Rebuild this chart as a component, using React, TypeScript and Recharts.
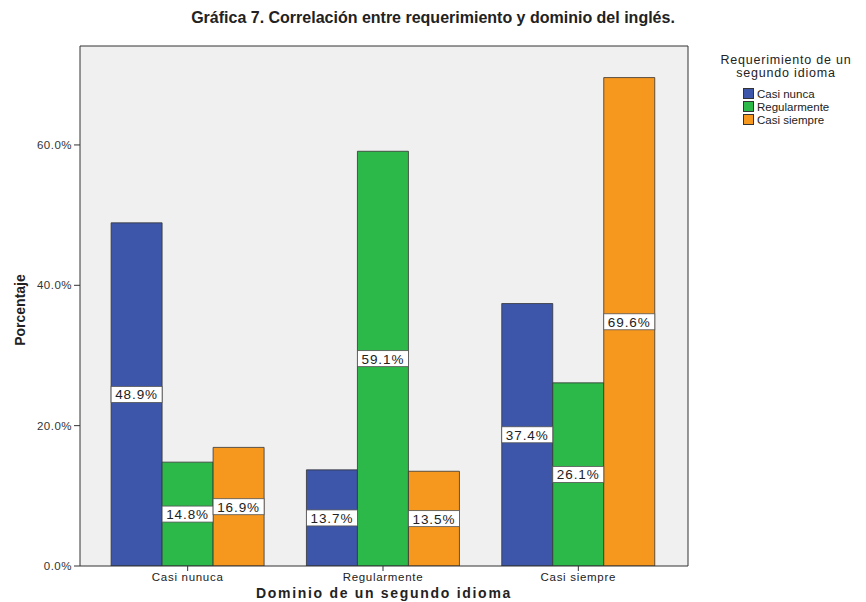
import React from 'react'
import { BarChart, Bar, XAxis, YAxis, CartesianGrid, LabelList } from 'recharts'

const categories = ['Casi nunuca', 'Regularmente', 'Casi siempre']
const casiNunca = [48.9, 13.7, 37.4]
const regularmente = [14.8, 59.1, 26.1]
const casiSiempre = [16.9, 13.5, 69.6]
const yTicks = [0, 20, 40, 60]

const series = [
  { key: 'casiNunca', name: 'Casi nunca', color: '#3d56a9' },
  { key: 'regularmente', name: 'Regularmente', color: '#2db84a' },
  { key: 'casiSiempre', name: 'Casi siempre', color: '#f7981e' },
]

const data = categories.map((c, i) => ({
  dominio: c,
  casiNunca: casiNunca[i],
  regularmente: regularmente[i],
  casiSiempre: casiSiempre[i],
}))

const font = 'Arial, "Liberation Sans", sans-serif'

function CenterLabel(props: any) {
  const { x, y, width, height, value } = props
  const cx = x + width / 2
  const cy = y + height / 2
  const text = `${Number(value).toFixed(1)}%`
  return (
    <g>
      <rect x={x} y={cy - 8} width={width} height={16} fill="#fff" stroke="#555" strokeWidth={0.8} />
      <text x={cx} y={cy + 5} textAnchor="middle" fontSize={13.5} letterSpacing={0.9} fontFamily={font} fill="#222">
        {text}
      </text>
    </g>
  )
}

export default function App() {
  return (
    <div style={{ position: 'absolute', left: 0, top: 0, width: 866, height: 602, background: '#fff', fontFamily: font }}>
      <div style={{ position: 'absolute', top: 9, left: 0, width: 866, textAlign: 'center', fontWeight: 'bold', fontSize: 16, color: '#222' }}>
        Gráfica 7. Correlación entre requerimiento y dominio del inglés.
      </div>
      <BarChart
        width={866}
        height={602}
        data={data}
        margin={{ top: 45, right: 177, bottom: 0, left: 0 }}
        barCategoryGap="10.8%"
        barGap={0}
      >
        <CartesianGrid fill="#f0f0f0" horizontal={false} vertical={false} />
        <XAxis
          dataKey="dominio"
          tick={{ fontSize: 11.5, fill: '#222', fontFamily: font, letterSpacing: 0.7 }}
          tickLine={{ stroke: '#333' }}
          tickSize={5}
          axisLine={{ stroke: '#333' }}
          height={36}
          interval={0}
          padding={{ left: 10, right: 12 }}
        />
        <XAxis xAxisId="top" orientation="top" dataKey="dominio" tick={false} tickLine={false} axisLine={{ stroke: '#333' }} height={1} />
        <YAxis
          domain={[0, 74.1]}
          ticks={yTicks}
          tickFormatter={(v: number) => `${v.toFixed(1)}%`}
          tick={{ fontSize: 11.5, fill: '#333', fontFamily: font, letterSpacing: 0.5 }}
          tickLine={{ stroke: '#333' }}
          tickSize={6}
          axisLine={{ stroke: '#333' }}
          width={80}
          allowDataOverflow
        />
        <YAxis yAxisId="right" orientation="right" domain={[0, 74.1]} tick={false} tickLine={false} axisLine={{ stroke: '#333' }} width={1} />
        {series.map((s) => (
          <Bar key={s.key} dataKey={s.key} name={s.name} fill={s.color} stroke="#333" strokeWidth={0.8} isAnimationActive={false}>
            <LabelList dataKey={s.key} content={CenterLabel} />
          </Bar>
        ))}
      </BarChart>
      <div
        style={{
          position: 'absolute',
          left: 2,
          top: 310,
          transform: 'translate(0, -50%) rotate(-90deg)',
          transformOrigin: 'center',
          width: 36,
          textAlign: 'center',
          fontWeight: 'bold',
          fontSize: 14,
          color: '#222',
          whiteSpace: 'nowrap',
          display: 'flex',
          justifyContent: 'center',
        }}
      >
        Porcentaje
      </div>
      <div style={{ position: 'absolute', left: 80, width: 608, top: 585, textAlign: 'center', fontWeight: 'bold', fontSize: 14, color: '#222', letterSpacing: 1.7 }}>
        Dominio de un segundo idioma
      </div>
      <div style={{ position: 'absolute', left: 706, top: 54, width: 160, fontSize: 12.5, color: '#222', textAlign: 'center', lineHeight: '13px', letterSpacing: 0.8 }}>
        Requerimiento de un<br />segundo idioma
      </div>
      <div style={{ position: 'absolute', left: 743, top: 87, fontSize: 11.5, color: '#222' }}>
        {series.map((s) => (
          <div key={s.key} style={{ display: 'flex', alignItems: 'center', height: 13 }}>
            <span style={{ width: 11, height: 11, background: s.color, border: '1px solid #333', boxSizing: 'border-box', marginRight: 3 }} />
            {s.name}
          </div>
        ))}
      </div>
    </div>
  )
}
